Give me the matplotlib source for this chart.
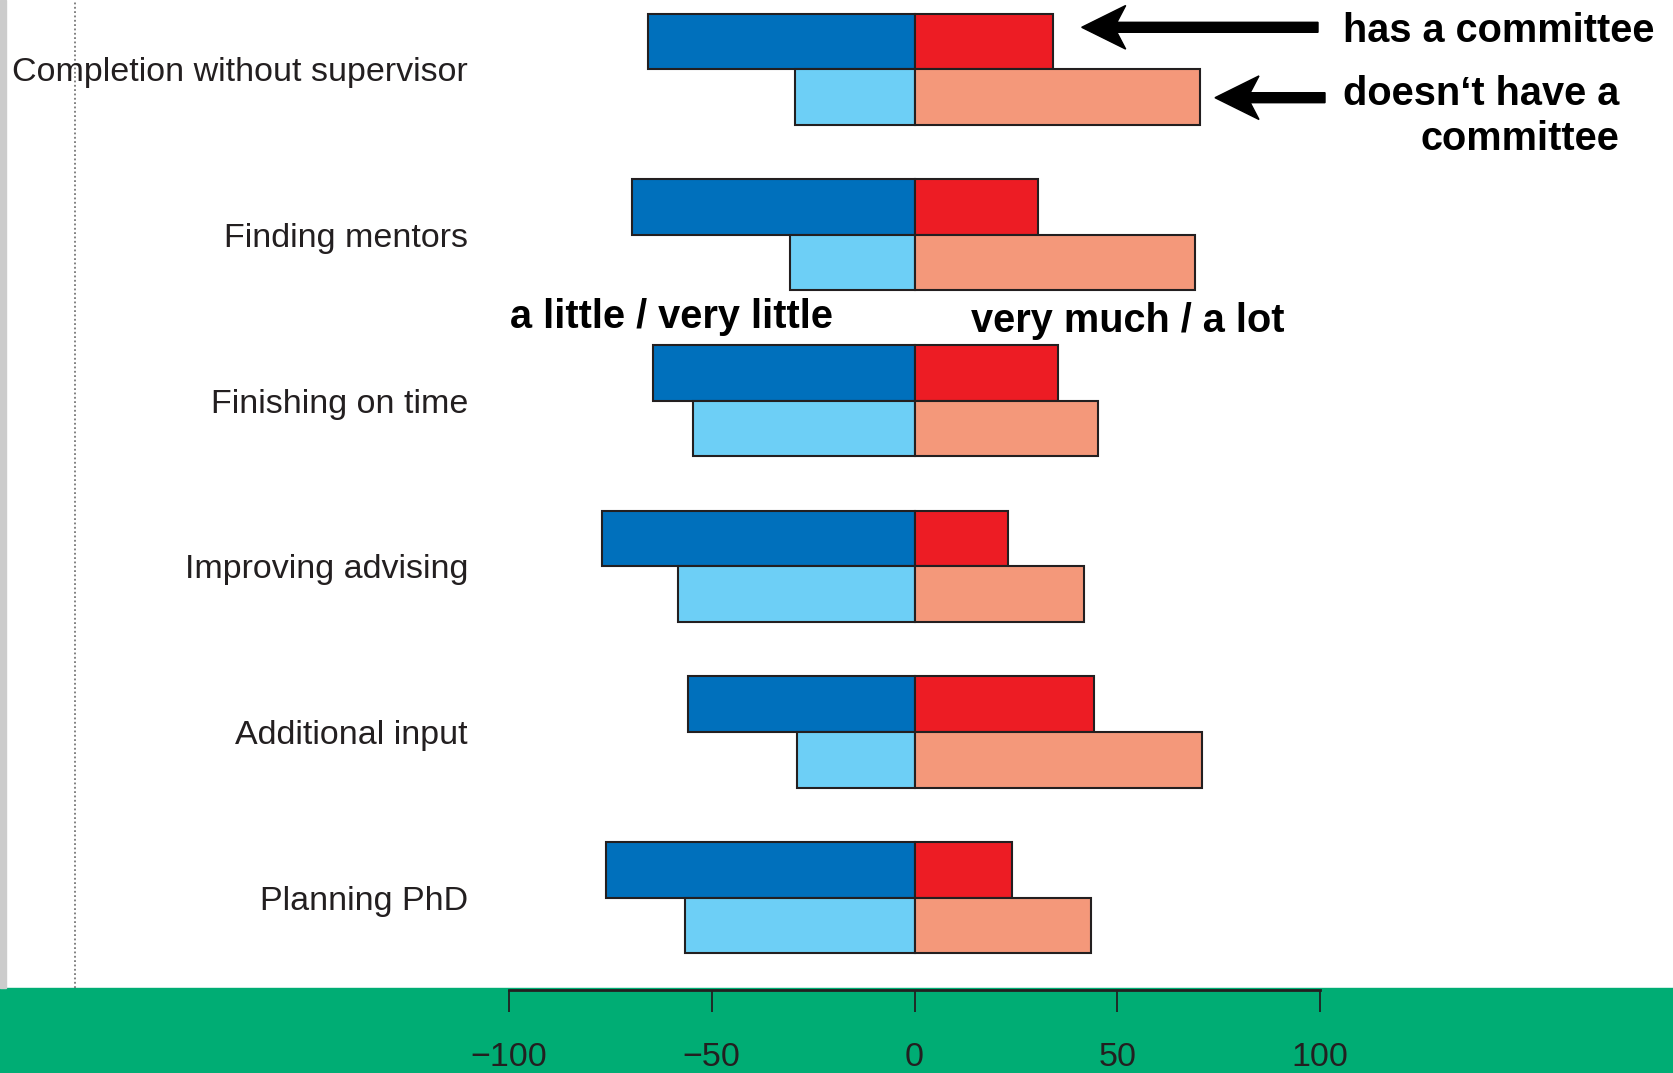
import matplotlib
matplotlib.use("Agg")
import matplotlib.pyplot as plt
from matplotlib.patches import Rectangle, FancyArrow
from matplotlib.lines import Line2D

plt.rcParams["font.family"] = ["Liberation Sans", "DejaVu Sans"]

# ── Data (percent of respondents) ─────────────────────────────────────────────
items = ["Completion without supervisor", "Finding mentors", "Finishing on time",
         "Improving advising", "Additional input", "Planning PhD"]
has_little = [-65.8, -69.6, -64.6, -77.0, -55.8, -76.0]   # has a committee
has_much   = [34.2, 30.4, 35.4, 23.0, 44.2, 24.1]
no_little  = [-29.5, -30.8, -54.7, -58.3, -29.0, -56.5]   # no committee
no_much    = [70.5, 69.2, 45.3, 41.7, 70.9, 43.5]
xticks     = [-100, -50, 0, 50, 100]

# ── Style ─────────────────────────────────────────────────────────────────────
DARK_BLUE  = "#0070bc"
LIGHT_BLUE = "#6dcff6"
RED        = "#ed1c24"
SALMON     = "#f4987a"
EDGE       = "#231f20"
GREEN      = "#00ad74"

W, H = 1673, 1073
fig = plt.figure(figsize=(W / 100, H / 100), dpi=100, facecolor="white")

def fx(x):
    return x / W

def fy(y):
    return 1 - y / H

# green footer, grey left strip, dotted guide
fig.patches.append(Rectangle((0, 0), 1, fy(988), transform=fig.transFigure,
                             color=GREEN, zorder=-2))
fig.patches.append(Rectangle((0, fy(988)), fx(6), 1 - fy(988),
                             transform=fig.transFigure, color="#cccccc", zorder=-2))
fig.lines.append(Line2D([fx(75), fx(75)], [fy(988), 1], transform=fig.transFigure,
                        color="#777777", lw=1.3, ls=(0, (1, 1.4)), zorder=-1))

# ── Bars ──────────────────────────────────────────────────────────────────────
ax = fig.add_axes([fx(509), fy(990), (1320 - 509) / W, 990 / H])
ax.set_zorder(1)
ax.set_facecolor("none")
pos = list(range(len(items)))
h = 0.335
top = [p - h / 2 for p in pos]
bot = [p + h / 2 for p in pos]
kw = dict(height=h, edgecolor=EDGE, linewidth=1.5)
ax.barh(top, has_little, color=DARK_BLUE, **kw)
ax.barh(top, has_much, color=RED, **kw)
ax.barh(bot, no_little, color=LIGHT_BLUE, **kw)
ax.barh(bot, no_much, color=SALMON, **kw)
ax.set_xlim(-100, 100)
ax.set_ylim(5.557, -0.4176)

ax.set_yticks(pos, items)
ax.tick_params(axis="y", length=0, pad=29.5, labelsize=24.5, labelcolor=EDGE)
ax.set_xticks(xticks)
ax.tick_params(axis="x", length=15.6, width=1.3, direction="out", pad=22,
               labelsize=24.5, color=EDGE, labelcolor=EDGE)
for s in ["left", "right", "top"]:
    ax.spines[s].set_visible(False)
ax.spines["bottom"].set_linewidth(2)
ax.spines["bottom"].set_color(EDGE)

# ── Annotations ───────────────────────────────────────────────────────────────
bold = dict(fontsize=28.6, fontweight="bold", va="baseline", color="black")
fig.text(fx(510), fy(328), "a little / very little", ha="left", **bold)
fig.text(fx(971), fy(332), "very much / a lot", ha="left", **bold)
fig.text(fx(1343), fy(41.7), "has a committee", ha="left", **bold)
fig.text(fx(1619), fy(105), "doesn\u2018t have a", ha="right", **bold)
fig.text(fx(1619), fy(150), "committee", ha="right", **bold)

def arrow(x0, x1, y):
    fig.patches.append(FancyArrow(x0 / 100, (H - y) / 100, (x1 - x0) / 100, 0,
                                  width=0.10, head_width=0.436, head_length=0.44,
                                  overhang=0.2, length_includes_head=True,
                                  color="black", transform=fig.dpi_scale_trans))

arrow(1318, 1081.7, 27.3)
arrow(1325, 1215, 97.7)

fig.savefig("out.png", dpi=100, facecolor="white")
